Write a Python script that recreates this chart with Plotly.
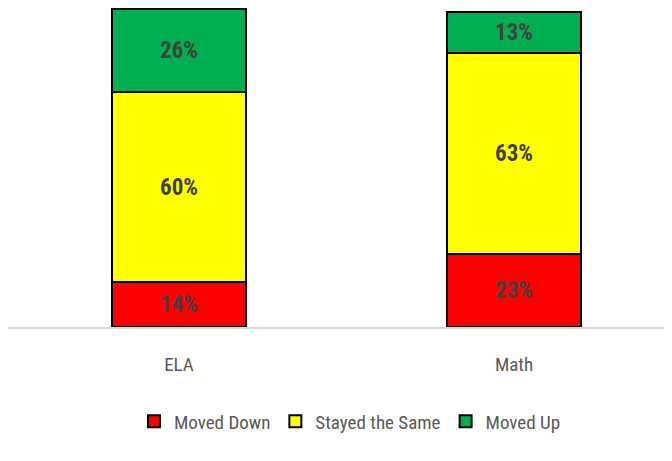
import plotly.graph_objects as go

categories = ["ELA", "Math"]
series_names = ["Moved Down", "Stayed the Same", "Moved Up"]
moved_down = [14, 23]
stayed_same = [60, 63]
moved_up = [26, 13]
colors = ["#FF0000", "#FFFF00", "#00B050"]

FONT = "Roboto Condensed, Carlito, sans-serif"

fig = go.Figure()
for name, vals, col in zip(series_names, [moved_down, stayed_same, moved_up], colors):
    fig.add_trace(go.Bar(
        name=name, x=categories, y=vals,
        marker=dict(color=col, line=dict(color="#000000", width=2)),
        width=0.4,
        text=[f"{v}%" for v in vals],
        textposition="inside", insidetextanchor="middle",
        textfont=dict(family=FONT, size=23, color="#404040", weight="bold"),
        constraintext="none",
    ))

fig.update_layout(
    barmode="stack",
    width=664, height=453,
    margin=dict(l=0, r=0, t=0, b=134.3),
    paper_bgcolor="white", plot_bgcolor="white",
    font=dict(family=FONT, color="#595959"),
    showlegend=True,
    legend=dict(orientation="h", x=0.515, xanchor="center", y=-0.296, yanchor="middle",
                font=dict(size=19, color="#595959"), traceorder="normal",
                itemwidth=30),
    xaxis=dict(range=[-0.5104, 1.4716], showgrid=False, showline=True, linecolor="#D9D9D9",
               linewidth=2, ticks="", ticklabelstandoff=19,
               tickfont=dict(size=19, color="#595959")),
    yaxis=dict(range=[0, 100.3], visible=False),
)
fig.write_html("out.html")
